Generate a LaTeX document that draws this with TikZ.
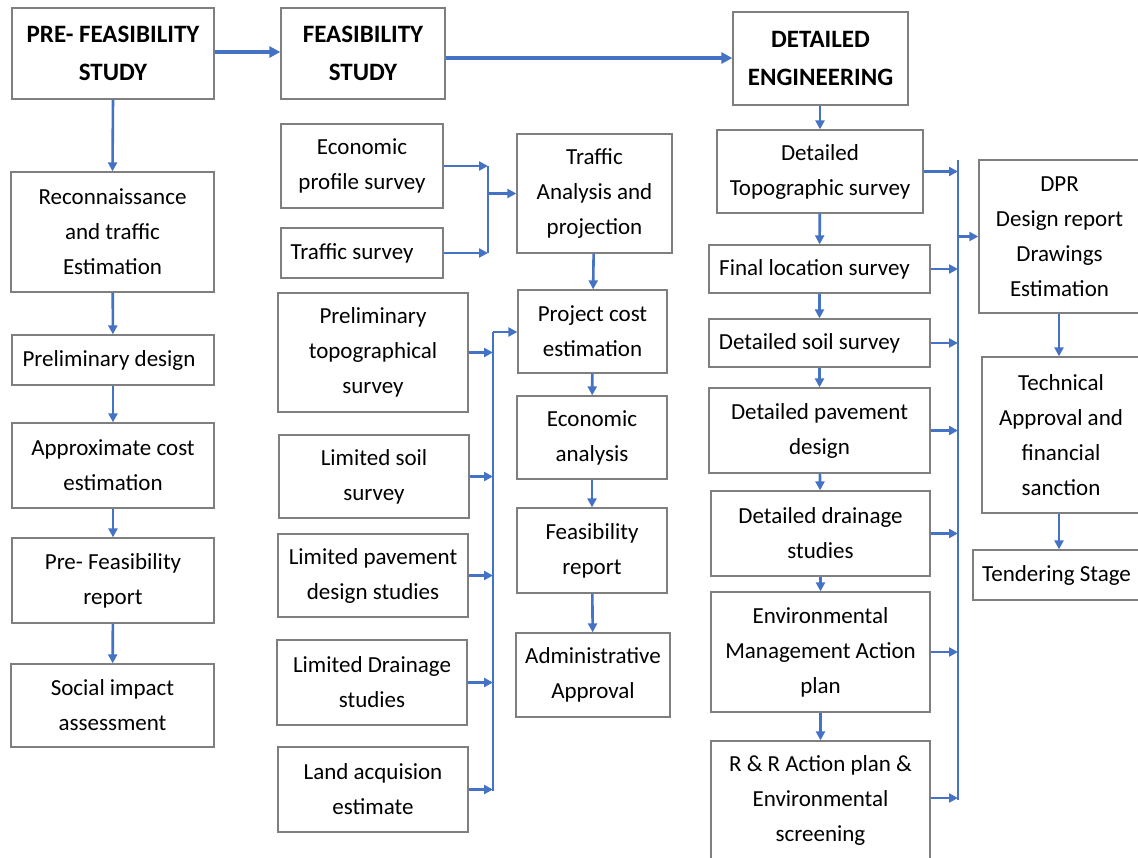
\documentclass[tikz,border=0pt]{standalone}
\usepackage{fontspec}
\setmainfont{Carlito}
\usetikzlibrary{arrows.meta}
\definecolor{lineblue}{HTML}{4472C4}
\definecolor{boxgray}{HTML}{7F7F7F}
\newcommand\mybox[7][box]{\node[#1,minimum width=#5pt-#3pt,minimum height=#6pt-#4pt] (#2) at ({(#3+#5)/2},{(#4+#6)/2}) {#7};}
\begin{document}
\begin{tikzpicture}[x=1pt,y=-1pt,
  box/.style={draw=boxgray,line width=1.3pt,fill=white,align=center,inner sep=0pt,font=\fontsize{23}{35}\selectfont},
  head/.style={box,font=\bfseries\fontsize{25}{38}\selectfont},
  arr/.style={draw=lineblue,line width=2.6pt,-{Triangle[length=9pt,width=9pt]}},
  bigarr/.style={arr,line width=3.2pt,-{Triangle[length=11pt,width=11pt]}},
  busline/.style={draw=lineblue,line width=2.6pt}]
\useasboundingbox (0,0) rectangle (1138,857);
\clip (0,0) rectangle (1138,857);
% headings
\mybox[head]{pre}{12}{8}{214}{99}{PRE- FEASIBILITY\\STUDY}
\mybox[head]{feas}{281}{8}{445}{99}{FEASIBILITY\\STUDY}
\mybox[head]{det}{733}{12}{908}{105}{DETAILED\\ENGINEERING}
% left column
\mybox{recon}{11}{172}{214}{292}{Reconnaissance\\and traffic\\Estimation}
\mybox{pdes}{12}{335}{214}{385}{Preliminary design\hspace{8pt}}
\mybox{acost}{12}{423}{214}{508}{Approximate cost\\estimation}
\mybox{pfrep}{12}{538}{214}{623}{Pre- Feasibility\\report}
\mybox{social}{11}{664}{214}{747}{Social impact\\assessment}
% feasibility column
\mybox{econ}{281}{124}{443}{208}{Economic\\profile survey}
\mybox{tsur}{281}{228}{443}{278}{Traffic survey\hspace{20pt}}
\mybox{tana}{517}{134}{672}{253}{Traffic\\Analysis and\\projection}
\mybox{ptopo}{278}{293}{468}{412}{Preliminary\\topographical\\survey}
\mybox{pcost}{518}{290}{667}{373}{Project cost\\estimation}
\mybox{lsoil}{279}{435}{469}{518}{Limited soil\\survey}
\mybox{lpave}{278}{534}{468}{617}{Limited pavement\\design studies}
\mybox{ldrain}{277}{640}{467}{725}{Limited Drainage\\studies}
\mybox{land}{278}{747}{468}{832}{Land acquision\\estimate}
\mybox{eana}{517}{396}{667}{479}{Economic\\analysis}
\mybox{frep}{517}{508}{667}{593}{Feasibility\\report}
\mybox{admin}{516}{633}{670}{717}{Administrative\\Approval}
% detailed column
\mybox{dtopo}{717}{130}{923}{213}{Detailed\\Topographic survey}
\mybox{final}{709}{245}{930}{293}{Final location survey\hspace{10pt}}
\mybox{dsoil}{709}{319}{930}{367}{Detailed soil survey\hspace{20pt}}
\mybox{dpave}{709}{388}{930}{473}{Detailed pavement\\design}
\mybox{ddrain}{711}{491}{930}{576}{Detailed drainage\\studies}
\mybox{env}{711}{592}{930}{712}{Environmental\\Management Action\\plan}
\mybox{rr}{711}{741}{930}{860}{R \& R Action plan \&\\Environmental\\screening}
\mybox{dpr}{979}{160}{1140}{313}{DPR\\Design report\\Drawings\\Estimation}
\mybox{tech}{982}{357}{1140}{513}{Technical\\Approval and\\financial\\sanction}
\mybox{tender}{973}{550}{1140}{600}{Tendering Stage}
% top arrows
\draw[bigarr] (pre.east |- 0,52) -- (feas.west |- 0,52);
\draw[bigarr] (feas.east |- 0,58) -- (det.west |- 0,58);
\draw[arr] (pre.south) -- (recon.north);
\draw[arr] (det.south -| dtopo.north) -- (dtopo.north);
% left column arrows
\draw[arr] (recon) -- (pdes);
\draw[arr] (pdes) -- (acost);
\draw[arr] (acost) -- (pfrep);
\draw[arr] (pfrep) -- (social);
% feasibility buses
\coordinate (b1t) at (488,166);
\coordinate (b1b) at (488,253);
\draw[busline] (b1t) -- (b1b);
\draw[arr] (econ.east) -- (econ.east -| b1t);
\draw[arr] (tsur.east) -- (tsur.east -| b1t);
\draw[arr] (tana.west -| b1t) -- (tana.west);
\draw[arr] (tana) -- (pcost);
\draw[arr] (pcost) -- (eana);
\draw[arr] (eana) -- (frep);
\draw[arr] (frep) -- (admin);
\coordinate (b2t) at (493,332);
\coordinate (b2b) at (493,791);
\draw[busline] (b2t) -- (b2b);
\draw[arr] (b2t) -- (b2t -| pcost.west);
\foreach \n in {ptopo,lsoil,lpave,ldrain,land}
  \draw[arr] (\n.east) -- (\n.east -| b2t);
% detailed column
\draw[arr] (dtopo) -- (final);
\draw[arr] (final) -- (dsoil);
\draw[arr] (dsoil) -- (dpave);
\draw[arr] (dpave) -- (ddrain);
\draw[arr] (ddrain) -- (env);
\draw[arr] (env) -- (rr.north);
\coordinate (b3t) at (958,160);
\coordinate (b3b) at (958,800);
\draw[busline] (b3t) -- (b3b);
\foreach \n in {dtopo,final,dsoil,dpave,ddrain,env}
  \draw[arr] (\n.east) -- (\n.east -| b3t);
\draw[arr] (rr.east |- 0,798) -- (b3t |- 0,798);
\draw[arr] (dpr.west -| b3t) -- (dpr.west);
\draw[arr] (dpr.south -| 1059,0) -- (tech.north -| 1059,0);
\draw[arr] (tech.south -| 1059,0) -- (tender.north -| 1059,0);
\end{tikzpicture}
\end{document}
